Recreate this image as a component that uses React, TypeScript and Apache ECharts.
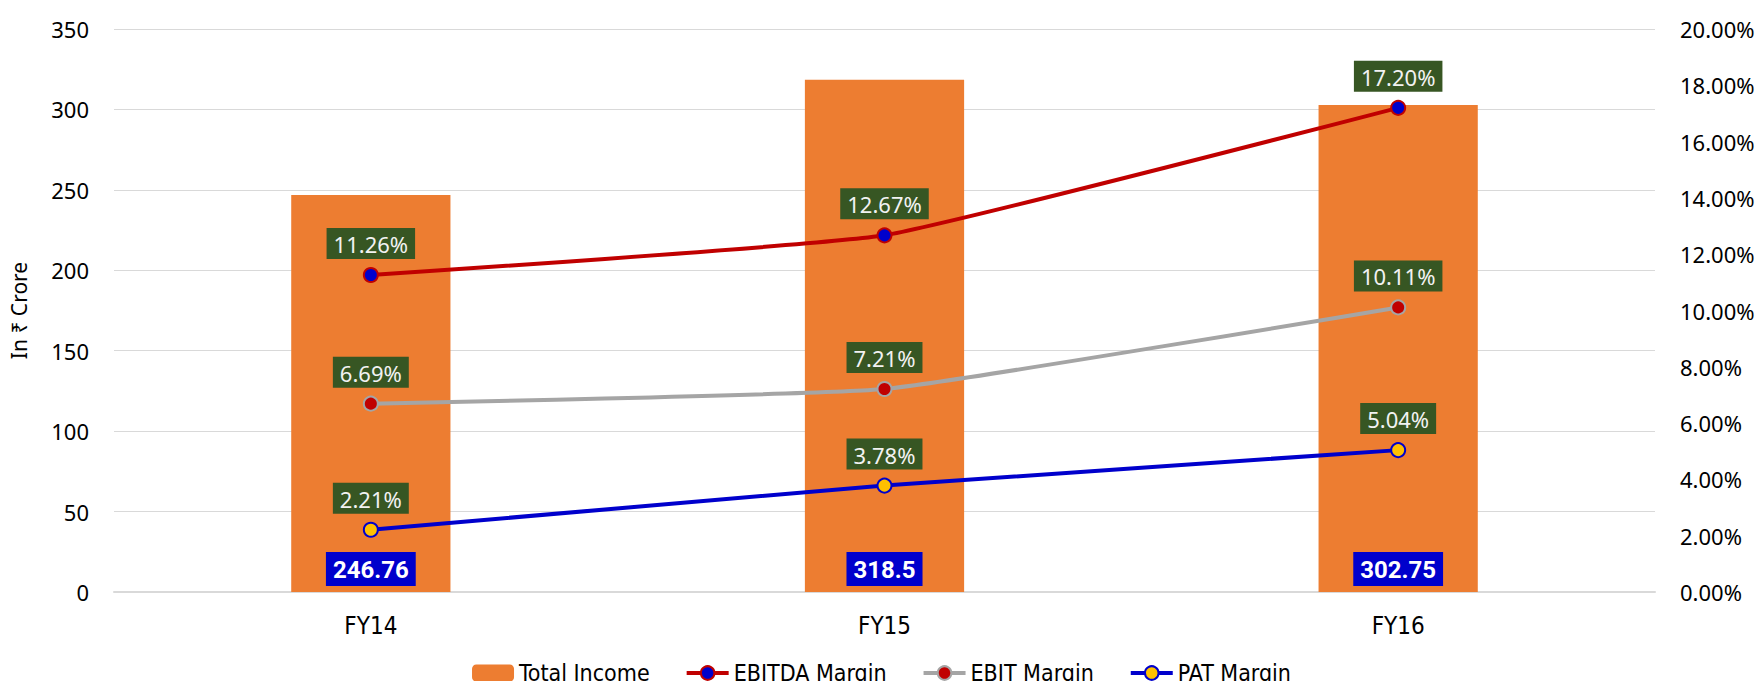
import React, { useEffect, useRef } from "react";
import * as echarts from "echarts";

const categories = ["FY14", "FY15", "FY16"];
const totalIncome = [246.76, 318.5, 302.75];
const ebitdaMargin = [11.26, 12.67, 17.2];
const ebitMargin = [6.69, 7.21, 10.11];
const patMargin = [2.21, 3.78, 5.04];

const NARROW = "'Liberation Sans Narrow', 'DejaVu Sans Condensed', sans-serif";
const SANS = "'Noto Sans', 'Open Sans', sans-serif";

export default function App() {
  const ref = useRef<HTMLDivElement>(null);
  useEffect(() => {
    if (!ref.current) return;
    const chart = echarts.init(ref.current, null, { renderer: "svg" });
    const lineLabel = {
      show: true,
      position: "top",
      distance: 8,
      formatter: (p: any) => p.value.toFixed(2) + "%",
      backgroundColor: "#375623",
      color: "#F2F2F2",
      fontFamily: SANS,
      fontSize: 22,
      padding: [5, 7, 4, 7],
    };
    const smooth = 0.12;
    chart.setOption({
      animation: false,
      backgroundColor: "#fff",
      grid: { left: 111, right: 108, top: 29, bottom: 97 },
      legend: {
        top: 661,
        left: "center",
        padding: 0,
        itemWidth: 42,
        itemHeight: 17,
        itemGap: 35,
        lineStyle: { width: 4 },
        textStyle: { fontFamily: NARROW, fontSize: 23, color: "#000", lineHeight: 24 },
        data: ["Total Income", "EBITDA Margin", "EBIT Margin", "PAT Margin"],
      },
      xAxis: {
        type: "category",
        data: categories,
        axisTick: { show: false },
        axisLine: { lineStyle: { color: "#D9D9D9", width: 2 } },
        axisLabel: { fontFamily: NARROW, fontSize: 24, color: "#000", margin: 22 },
      },
      yAxis: [
        {
          type: "value",
          min: 0,
          max: 350,
          interval: 50,
          name: "In ₹ Crore",
          nameLocation: "middle",
          nameGap: 85,
          nameTextStyle: { fontFamily: SANS, fontSize: 21, color: "#000" },
          axisLine: { show: false },
          axisTick: { show: false },
          splitLine: { lineStyle: { color: "#D9D9D9", width: 1 } },
          axisLabel: { fontFamily: SANS, fontSize: 22, color: "#000", margin: 25 },
        },
        {
          type: "value",
          min: 0,
          max: 20,
          interval: 2,
          axisLine: { show: false },
          axisTick: { show: false },
          splitLine: { show: false },
          axisLabel: {
            fontFamily: SANS,
            fontSize: 22,
            color: "#000",
            margin: 25,
            formatter: (v: number) => v.toFixed(2) + "%",
          },
        },
      ],
      series: [
        {
          name: "Total Income",
          type: "bar",
          data: totalIncome,
          barWidth: "31%",
          itemStyle: { color: "#ED7D31" },
          label: {
            show: true,
            position: "insideBottom",
            distance: 6,
            backgroundColor: "#0000CC",
            color: "#fff",
            fontFamily: "Roboto, sans-serif",
            fontWeight: "bold",
            fontSize: 24,
            padding: [6, 7, 4, 7],
          },
        },
        {
          name: "EBITDA Margin",
          type: "line",
          yAxisIndex: 1,
          data: ebitdaMargin,
          smooth,
          symbol: "circle",
          symbolSize: 14,
          lineStyle: { color: "#C00000", width: 4 },
          itemStyle: { color: "#0000CC", borderColor: "#C00000", borderWidth: 2 },
          label: lineLabel,
        },
        {
          name: "EBIT Margin",
          type: "line",
          yAxisIndex: 1,
          data: ebitMargin,
          smooth,
          symbol: "circle",
          symbolSize: 14,
          lineStyle: { color: "#A5A5A5", width: 4 },
          itemStyle: { color: "#C00000", borderColor: "#A5A5A5", borderWidth: 2 },
          label: lineLabel,
        },
        {
          name: "PAT Margin",
          type: "line",
          yAxisIndex: 1,
          data: patMargin,
          smooth,
          symbol: "circle",
          symbolSize: 14,
          lineStyle: { color: "#0000CC", width: 4 },
          itemStyle: { color: "#FFC000", borderColor: "#0000CC", borderWidth: 2 },
          label: lineLabel,
        },
      ],
    });
    return () => chart.dispose();
  }, []);
  return <div ref={ref} style={{ width: 1763, height: 689, margin: -8 }} />;
}
